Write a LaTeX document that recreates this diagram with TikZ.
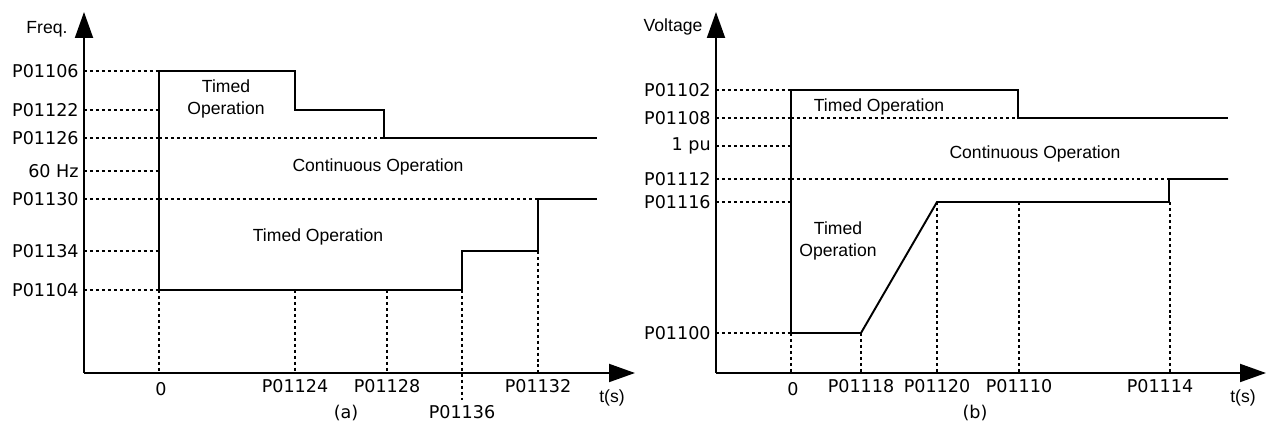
\documentclass[tikz,border=0pt]{standalone}
\usepackage{fontspec}
\setmainfont{Liberation Sans}
\newfontfamily\tickfont{DejaVu Sans}
\usetikzlibrary{arrows.meta}

\begin{document}
\begin{tikzpicture}[x=0.02cm, y=-0.02cm,
  axis/.style={line width=1.1pt, -{Triangle[length=0.52cm, width=0.36cm]}},
  curve/.style={line width=1.1pt, line join=miter},
  guide/.style={line width=0.8pt, dash pattern=on 1.7pt off 1.7pt},
  tick/.style={font=\tickfont\fontsize{10}{12}\selectfont, inner sep=0pt},
  region/.style={font=\fontsize{10}{12}\selectfont, align=center, inner sep=0pt}]
  \useasboundingbox (0,0) rectangle (1272,428);

  % ---- (a) frequency ride-through ----
  \draw[axis] (84,373) -- (84,12);
  \draw[axis] (84,373) -- (635,373);
  \node[region] (fq) at (47,29) {Freq.};
  \node[region] (ts-a) at (612,398) {t(s)};
  \node[tick] (cap-a) at (346,413) {(a)};

  \foreach \y/\t in {71/P01106, 110/P01122, 138/P01126, 171/60 Hz, 199/P01130, 251/P01134, 290/P01104} {
    \node[tick, anchor=east] (fy-\y) at (79,\y) {\t};
    \draw[guide] (84,\y) -- (159,\y);
  }
  \draw[guide] (159,138) -- (384,138);
  \draw[guide] (159,199) -- (538,199);

  % time marks
  \draw[guide] (159,290) -- (159,373);
  \draw[guide] (295,290) -- (295,373);
  \draw[guide] (387,290) -- (387,373);
  \draw[guide] (462,290) -- (462,400);
  \draw[guide] (538,251) -- (538,373);
  \node[tick] (fx-0) at (161,389) {0};
  \node[tick] (fx-124) at (295,386) {P01124};
  \node[tick] (fx-128) at (387,386) {P01128};
  \node[tick] (fx-136) at (462,412) {P01136};
  \node[tick] (fx-132) at (538,386) {P01132};

  % limits
  \draw[curve] (159,290) -- (159,71) -- (295,71) -- (295,110) -- (384,110) -- (384,138) -- (597,138);
  \draw[curve] (159,199) -- (159,290) -- (462,290) -- (462,251) -- (538,251) -- (538,199) -- (597,199);

  \node[region] (hi-a) at (226,99) {Timed\\Operation};
  \node[region] (cont-a) at (378,167) {Continuous Operation};
  \node[region] (lo-a) at (318,237) {Timed Operation};

  % ---- (b) voltage ride-through ----
  \draw[axis] (716,373) -- (716,12);
  \draw[axis] (716,373) -- (1266,373);
  \node[region] (volt) at (673,27) {Voltage};
  \node[region] (ts-b) at (1243,398) {t(s)};
  \node[tick] (cap-b) at (975,413) {(b)};

  \foreach \y/\t in {90/P01102, 118/P01108, 146/1 pu, 179/P01112, 202/P01116, 333/P01100} {
    \node[tick, anchor=east] (vy-\y) at (711,\y) {\t};
    \draw[guide] (716,\y) -- (791,\y);
  }
  \draw[guide] (791,118) -- (1018,118);
  \draw[guide] (791,179) -- (1169,179);

  % time marks
  \draw[guide] (791,333) -- (791,373);
  \draw[guide] (861,333) -- (861,373);
  \draw[guide] (937,202) -- (937,373);
  \draw[guide] (1019,202) -- (1019,373);
  \draw[guide] (1170,202) -- (1170,373);
  \node[tick] (vx-0) at (793,389) {0};
  \node[tick] (vx-118) at (861,386) {P01118};
  \node[tick] (vx-120) at (937,386) {P01120};
  \node[tick] (vx-110) at (1019,386) {P01110};
  \node[tick] (vx-114) at (1160,386) {P01114};

  % limits
  \draw[curve] (791,333) -- (791,90) -- (1018,90) -- (1018,118) -- (1228,118);
  \draw[curve] (791,90) -- (791,333) -- (861,333) -- (937,202) -- (1169,202) -- (1169,179) -- (1228,179);

  \node[region] (hi-b) at (879,107) {Timed Operation};
  \node[region] (cont-b) at (1035,154) {Continuous Operation};
  \node[region] (lo-b) at (838,241) {Timed\\Operation};
\end{tikzpicture}
\end{document}
